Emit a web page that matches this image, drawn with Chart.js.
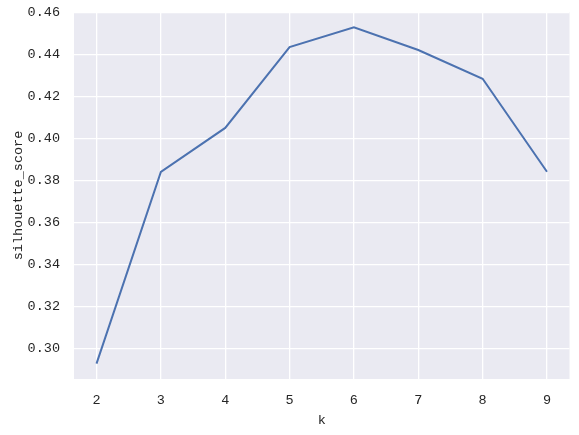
<!DOCTYPE html>
<html>
<head>
<meta charset="utf-8">
<script src="https://cdn.jsdelivr.net/npm/chart.js@4/dist/chart.umd.min.js"></script>
<style>
  html, body { margin: 0; padding: 0; background: #ffffff; }
  #wrap { width: 579px; height: 435px; position: relative; }
</style>
</head>
<body>
<div id="wrap"><canvas id="c" width="579" height="435"></canvas></div>
<script>
const kValues = [2, 3, 4, 5, 6, 7, 8, 9];
const silhouetteScores = [0.2928, 0.3841, 0.4051, 0.4436, 0.4530, 0.4422, 0.4285, 0.3842];
const xTickValues = [2, 3, 4, 5, 6, 7, 8, 9];
const yTickValues = [0.30, 0.32, 0.34, 0.36, 0.38, 0.40, 0.42, 0.44, 0.46];
const xLabel = 'k';
const yLabel = 'silhouette_score';

const FONT = "'Liberation Mono', 'DejaVu Sans Mono', monospace";
const TEXT = '#262626';

const bgPlugin = {
  id: 'plotBg',
  beforeDraw(chart) {
    const {ctx, chartArea: a} = chart;
    ctx.save();
    ctx.fillStyle = '#EAEAF2';
    ctx.fillRect(a.left, a.top, a.right - a.left, a.bottom - a.top);
    ctx.restore();
  }
};

new Chart(document.getElementById('c'), {
  type: 'line',
  data: {
    datasets: [{
      data: kValues.map((k, i) => ({x: k, y: silhouetteScores[i]})),
      borderColor: '#4C72B0',
      borderWidth: 2,
      pointRadius: 0,
      tension: 0,
      fill: false
    }]
  },
  options: {
    responsive: false,
    animation: false,
    devicePixelRatio: 1,
    layout: { padding: { left: 0, right: 9.5, top: 12, bottom: 0 } },
    plugins: { legend: { display: false }, tooltip: { enabled: false } },
    scales: {
      x: {
        type: 'linear',
        min: 1.65,
        max: 9.35,
        afterBuildTicks(s) { s.ticks = xTickValues.map(v => ({value: v})); },
        afterFit(s) { s.height = 56; s.paddingLeft = 0; s.paddingRight = 0; },
        border: { display: false },
        grid: { color: '#ffffff', lineWidth: 1.3, drawTicks: false },
        ticks: { color: TEXT, padding: 13, font: { family: FONT, size: 13.5 }, maxRotation: 0, callback: v => String(v) },
        title: { display: true, text: xLabel, color: TEXT, font: { family: FONT, size: 13.5 }, padding: { top: 0, bottom: 6.5 } }
      },
      y: {
        type: 'linear',
        min: 0.2855,
        max: 0.4603,
        afterBuildTicks(s) { s.ticks = yTickValues.map(v => ({value: v})); },
        afterFit(s) { s.width = 74; s.paddingTop = 0; s.paddingBottom = 0; },
        border: { display: false },
        grid: { color: '#ffffff', lineWidth: 1.3, drawTicks: false },
        ticks: { color: TEXT, padding: 14, font: { family: FONT, size: 13.5 }, callback: v => v.toFixed(2) },
        title: { display: true, text: yLabel, color: TEXT, font: { family: FONT, size: 13.5 }, padding: { top: 10, bottom: 0 } }
      }
    }
  },
  plugins: [bgPlugin]
});
</script>
</body>
</html>
